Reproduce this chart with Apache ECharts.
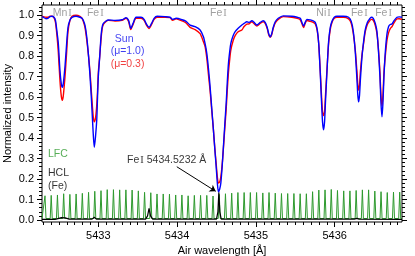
<!DOCTYPE html>
<html><head><meta charset="utf-8">
<script src="https://cdn.jsdelivr.net/npm/echarts@6.0.0/dist/echarts.min.js"></script>
<style>html,body{margin:0;padding:0;background:#fff}#chart{width:415px;height:256px}</style>
</head><body><div id="chart"></div>
<script>
// ---- data ----
const wavelength = [
5432.285,5432.310,5432.335,5432.361,5432.386,5432.412,5432.437,5432.456,5432.475,5432.492,
5432.513,5432.530,5432.543,5432.555,5432.577,5432.598,5432.615,5432.640,5432.666,5432.717,
5432.767,5432.793,5432.809,5432.831,5432.853,5432.876,5432.895,5432.911,5432.924,5432.937,
5432.949,5432.965,5432.980,5432.990,5433.000,5433.018,5433.034,5433.047,5433.064,5433.098,
5433.127,5433.212,5433.301,5433.352,5433.384,5433.412,5433.441,5433.479,5433.543,5433.581,
5433.613,5433.644,5433.676,5433.708,5433.746,5433.848,5433.911,5433.943,5433.987,5434.064,
5434.114,5434.165,5434.229,5434.292,5434.334,5434.356,5434.377,5434.398,5434.419,5434.441,
5434.461,5434.479,5434.496,5434.511,5434.525,5434.540,5434.555,5434.572,5434.588,5434.606,
5434.623,5434.638,5434.652,5434.667,5434.682,5434.711,5434.737,5434.775,5434.822,5434.851,
5434.886,5434.915,5434.949,5434.978,5435.013,5435.055,5435.093,5435.118,5435.144,5435.163,
5435.182,5435.201,5435.220,5435.246,5435.284,5435.347,5435.457,5435.525,5435.563,5435.585,
5435.605,5435.626,5435.648,5435.690,5435.728,5435.754,5435.779,5435.798,5435.817,5435.833,
5435.846,5435.859,5435.872,5435.884,5435.902,5435.923,5435.944,5435.966,5435.995,5436.029,
5436.109,5436.177,5436.211,5436.237,5436.262,5436.284,5436.294,5436.304,5436.316,5436.326,
5436.348,5436.370,5436.389,5436.415,5436.440,5436.465,5436.490,5436.516,5436.537,5436.557,
5436.575,5436.588,5436.601,5436.613,5436.626,5436.643,5436.665,5436.685,5436.706,5436.728,
5436.757,5436.792,5436.821,5436.855];

const intensityMu10 = [
0.993,0.988,0.983,0.985,0.993,0.995,0.99,0.975,0.92,0.863,
0.73,0.665,0.648,0.665,0.75,0.863,0.94,0.977,0.99,0.995,
0.99,0.985,0.975,0.95,0.895,0.8,0.70,0.6,0.504,0.41,
0.355,0.41,0.488,0.6,0.70,0.8,0.895,0.94,0.96,0.972,
0.977,0.975,0.978,0.988,0.975,0.936,0.96,0.99,0.99,0.98,
0.955,0.941,0.96,0.985,0.995,0.993,0.99,0.98,0.985,0.978,
0.97,0.952,0.944,0.928,0.895,0.86,0.814,0.74,0.65,0.54,
0.44,0.345,0.26,0.18,0.138,0.15,0.18,0.26,0.358,0.47,
0.57,0.68,0.765,0.82,0.863,0.9,0.92,0.936,0.952,0.96,
0.968,0.965,0.973,0.965,0.952,0.965,0.973,0.965,0.94,0.91,
0.895,0.91,0.94,0.968,0.985,0.997,0.995,0.99,0.985,0.965,
0.947,0.965,0.98,0.977,0.972,0.965,0.93,0.86,0.72,0.58,
0.48,0.44,0.48,0.58,0.72,0.87,0.94,0.97,0.99,0.995,
0.995,0.99,0.97,0.92,0.82,0.68,0.61,0.577,0.61,0.68,
0.8,0.88,0.93,0.965,0.98,0.99,0.985,0.96,0.92,0.82,
0.7,0.57,0.504,0.57,0.7,0.82,0.91,0.945,0.955,0.957,
0.975,0.99,0.992,0.99];

const intensityMu03 = [
0.995,0.992,0.99,0.99,0.995,0.995,0.988,0.965,0.9,0.82,
0.68,0.605,0.585,0.605,0.7,0.82,0.92,0.975,0.995,1.0,
0.995,0.985,0.97,0.94,0.88,0.8,0.72,0.63,0.56,0.5,
0.48,0.5,0.56,0.63,0.72,0.8,0.88,0.93,0.955,0.97,
0.975,0.972,0.975,0.985,0.97,0.93,0.955,0.985,0.985,0.975,
0.95,0.935,0.955,0.98,0.99,0.99,0.988,0.975,0.982,0.972,
0.962,0.941,0.93,0.91,0.87,0.846,0.79,0.71,0.63,0.53,
0.44,0.35,0.275,0.21,0.18,0.185,0.21,0.27,0.35,0.45,
0.54,0.64,0.72,0.78,0.83,0.875,0.9,0.919,0.928,0.945,
0.957,0.958,0.968,0.958,0.947,0.96,0.968,0.96,0.935,0.905,
0.892,0.905,0.935,0.962,0.98,0.993,0.99,0.985,0.978,0.958,
0.94,0.96,0.974,0.97,0.965,0.958,0.925,0.86,0.73,0.61,
0.53,0.51,0.53,0.61,0.73,0.86,0.93,0.965,0.985,0.99,
0.99,0.982,0.96,0.91,0.83,0.72,0.66,0.635,0.66,0.72,
0.81,0.87,0.92,0.955,0.97,0.98,0.975,0.95,0.91,0.83,
0.72,0.61,0.556,0.61,0.72,0.8,0.879,0.915,0.935,0.944,
0.965,0.982,0.983,0.98];

const lfcPeakWave = [
5432.323,5432.402,5432.481,5432.560,5432.639,5432.718,5432.797,5432.876,5432.955,5433.034,
5433.113,5433.192,5433.271,5433.350,5433.429,5433.508,5433.587,5433.666,5433.745,5433.824,
5433.903,5433.982,5434.061,5434.140,5434.219,5434.298,5434.377,5434.456,5434.535,5434.614,
5434.693,5434.772,5434.851,5434.930,5435.009,5435.088,5435.167,5435.246,5435.325,5435.404,
5435.483,5435.562,5435.641,5435.720,5435.799,5435.878,5435.957,5436.036,5436.115,5436.194,
5436.273,5436.352,5436.431,5436.510,5436.589,5436.668,5436.747,5436.826];
const lfcPeakHeight = [
0.118,0.12,0.122,0.128,0.125,0.127,0.13,0.135,0.14,0.143,
0.148,0.148,0.147,0.147,0.146,0.142,0.135,0.133,0.127,0.127,
0.126,0.122,0.122,0.118,0.12,0.12,0.12,0.117,0.125,0.128,
0.131,0.134,0.134,0.134,0.134,0.132,0.134,0.131,0.129,0.129,
0.129,0.128,0.128,0.138,0.146,0.147,0.149,0.144,0.142,0.142,
0.144,0.147,0.147,0.141,0.138,0.134,0.136,0.136];
const lfcBaseline = 0.007;

const hclWave = [5432.285,5432.45,5432.50,5432.53,5432.58,5432.63,5432.92,5432.949,5432.975,
  5433.60,5433.625,5433.644,5433.663,5433.69,5434.50,5434.518,5434.530,5434.542,5434.56,
  5436.25,5436.28,5436.31,5436.855];
const hclValue = [0.003,0.003,0.008,0.011,0.01,0.004,0.004,0.013,0.004,
  0.004,0.02,0.057,0.02,0.004,0.004,0.04,0.135,0.04,0.004,
  0.004,0.008,0.004,0.003];

const xTickValues = [5433, 5434, 5435, 5436];
const yTickValues = [0.0,0.1,0.2,0.3,0.4,0.5,0.6,0.7,0.8,0.9,1.0];

const lineIdNames = ['Mn','Fe','Fe','Ni','Fe','Fe'];
const lineIdWave = [5432.543,5432.962,5434.525,5435.859,5436.313,5436.621];

// ---- layout / style ----
const X_MIN = 5432.285, X_MAX = 5436.855, Y_MIN = -0.01, Y_MAX = 1.05;
const FONT = 'Liberation Sans, Arial, Helvetica, sans-serif';
const SERIF = 'Liberation Serif, Times New Roman, serif';

const xMinor = [];
for (let i = Math.ceil(X_MIN * 10); i <= Math.floor(X_MAX * 10); i++) {
  if (i % 10 !== 0) xMinor.push(i / 10);
}
const yMinor = [];
for (let i = 0; i <= 52; i++) { if (i % 5 !== 0) yMinor.push(+(i * 0.02).toFixed(2)); }

const pairs = (xs, ys) => xs.map((x, i) => [x, ys[i]]);

const lfcData = [[X_MIN, lfcBaseline]];
lfcPeakWave.forEach((w, i) => {
  lfcData.push([w - 0.013, lfcBaseline], [w, lfcPeakHeight[i]], [w + 0.013, lfcBaseline]);
});
lfcData.push([X_MAX, lfcBaseline]);

function mkX(pos, ticks, len, labels) {
  return {
    type: 'value', position: pos, min: X_MIN, max: X_MAX,
    axisLine: { show: false, onZero: false },
    axisTick: { show: true, inside: false, length: len, customValues: ticks, lineStyle: { color: '#000', width: 1 } },
    axisLabel: labels ? { show: true, customValues: ticks, formatter: v => String(v), fontSize: 11, color: '#000', fontFamily: FONT, margin: 8 } : { show: false },
    splitLine: { show: false },
    name: labels ? 'Air wavelength [Å]' : '',
    nameLocation: 'middle', nameGap: 23, nameMoveOverlap: false,
    nameTextStyle: { fontSize: 11, color: '#000', fontFamily: FONT }
  };
}
function mkY(pos, ticks, len, labels) {
  return {
    type: 'value', position: pos, min: Y_MIN, max: Y_MAX,
    axisLine: { show: false, onZero: false },
    axisTick: { show: true, inside: false, length: len, customValues: ticks, lineStyle: { color: '#000', width: 1 } },
    axisLabel: labels ? { show: true, customValues: ticks, formatter: v => v.toFixed(1), fontSize: 11, color: '#000', fontFamily: FONT, margin: 8 } : { show: false },
    splitLine: { show: false },
    name: labels ? 'Normalized intensity' : '',
    nameLocation: 'middle', nameGap: 29, nameRotate: 90, nameMoveOverlap: false,
    nameTextStyle: { fontSize: 11, color: '#000', fontFamily: FONT }
  };
}

function txt(x, y, text, color, pos) {
  return {
    value: [x, y],
    label: {
      show: true, position: pos, distance: 0, formatter: text, color: color,
      fontSize: 10.5, fontFamily: FONT,
      rich: {
        s: { fontSize: 10.5, fontFamily: FONT, color: color },
        r: { fontSize: 10.5, fontFamily: SERIF, color: color, padding: [0, 0, 0, 1] }
      }
    }
  };
}

const annotations = [];
lineIdNames.forEach((n, i) => {
  annotations.push(txt(lineIdWave[i], 1.008, '{s|' + n + '}{r|I}', '#888888', 'inside'));
});
annotations.push(txt(5433.328, 0.884, 'Sun', '#1010ee', 'inside'));
annotations.push(txt(5433.371, 0.825, '(μ=1.0)', '#1010ee', 'inside'));
annotations.push(txt(5433.371, 0.762, '(μ=0.3)', '#ee1010', 'inside'));
annotations.push(txt(5432.361, 0.322, 'LFC', '#2e9a2e', 'right'));
annotations.push(txt(5432.361, 0.229, 'HCL', '#000', 'right'));
annotations.push(txt(5432.361, 0.166, '(Fe)', '#000', 'right'));
annotations.push(txt(5433.365, 0.292, '{s|Fe}{r|I}{s| 5434.5232 Å}', '#000', 'right'));

const chart = echarts.init(document.getElementById('chart'), null, { renderer: 'canvas' });
chart.setOption({
  animation: false,
  backgroundColor: '#fff',
  grid: { left: 42, right: 13, top: 5, bottom: 34, show: true, borderColor: '#000', borderWidth: 1,
    backgroundColor: 'transparent', containLabel: false, outerBoundsMode: 'none' },
  xAxis: [mkX('bottom', xTickValues, 5, true), mkX('bottom', xMinor, 3, false), mkX('top', xTickValues, 5, false), mkX('top', xMinor, 3, false)],
  yAxis: [mkY('left', yTickValues, 5, true), mkY('left', yMinor, 3, false), mkY('right', yTickValues, 5, false), mkY('right', yMinor, 3, false)],
  series: [
    { name: 'LFC', type: 'line', data: lfcData, symbol: 'none', silent: true,
      lineStyle: { color: '#2e9a2e', width: 1 }, z: 2 },
    { name: 'HCL', type: 'line', data: pairs(hclWave, hclValue), symbol: 'none', silent: true,
      lineStyle: { color: '#000', width: 1.2 }, z: 3 },
    { name: 'Sun mu=0.3', type: 'line', data: pairs(wavelength, intensityMu03), symbol: 'none', silent: true,
      smooth: 0.25, lineStyle: { color: '#ff0000', width: 1.4 }, z: 4 },
    { name: 'Sun mu=1.0', type: 'line', data: pairs(wavelength, intensityMu10), symbol: 'none', silent: true,
      smooth: 0.25, lineStyle: { color: '#0000ff', width: 1.4 }, z: 5 },
    { name: 'labels', type: 'scatter', data: annotations, symbolSize: 0, silent: true, z: 6,
      markLine: { silent: true, symbol: ['none', 'arrow'], symbolSize: 6, label: { show: false },
        lineStyle: { color: '#000', width: 1, type: 'solid' },
        data: [[{ coord: [5433.996, 0.26] }, { coord: [5434.49, 0.14] }]] } }
  ]
});
</script></body></html>
